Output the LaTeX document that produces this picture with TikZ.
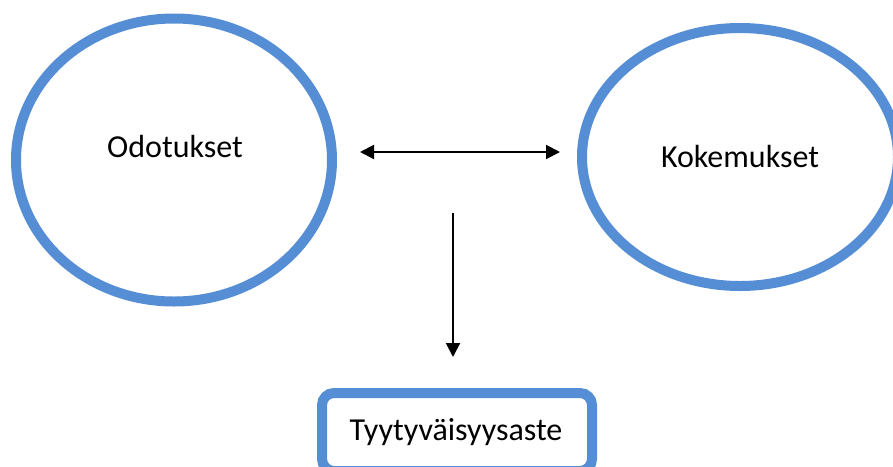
\documentclass[tikz,border=0pt]{standalone}
\usepackage{fontspec}
\setmainfont{Carlito}
\usetikzlibrary{shapes.geometric,arrows.meta}
\definecolor{ovalblue}{RGB}{85,142,213}
\begin{document}
\begin{tikzpicture}[x=1pt,y=-1pt,
  oval/.style={ellipse, draw=ovalblue, line width=10pt, fill=white, inner sep=0pt},
  resultbox/.style={rectangle, rounded corners=12pt, draw=ovalblue, line width=10pt, fill=white,
    minimum width=270pt, minimum height=78pt, inner sep=0pt},
  lbl/.style={font=\fontsize{32}{37}\selectfont, inner sep=0pt, anchor=center},
  conn/.style={line width=2pt, draw=black, arrows={-Triangle[length=14pt,width=14pt]}}
]
\useasboundingbox (0,0) rectangle (893,466);
\clip (0,0) rectangle (893,466);
\fill[white] (0,0) rectangle (893,466);

\node[oval, minimum width=316pt, minimum height=283pt] (odot) at (174,160) {};
\node[lbl] (odottxt) at (175,147) {Odotukset};

\node[oval, minimum width=316pt, minimum height=258pt] (koke) at (740,157) {};
\node[lbl] (koketxt) at (740,157) {Kokemukset};

\node[resultbox] (tyyt) at (457,432) {};
\node[lbl] (tyyttxt) at (456,432) {Tyytyväisyysaste};

\coordinate (hL) at (360,152);
\coordinate (hR) at (560,152);
\coordinate (vT) at (453,213);
\coordinate (vB) at (453,357);

\draw[line width=2pt, arrows={Triangle[length=14pt,width=14pt]-Triangle[length=14pt,width=14pt]}] (hL) -- (hR);
\draw[conn] (vT) -- (vB);
\end{tikzpicture}
\end{document}
